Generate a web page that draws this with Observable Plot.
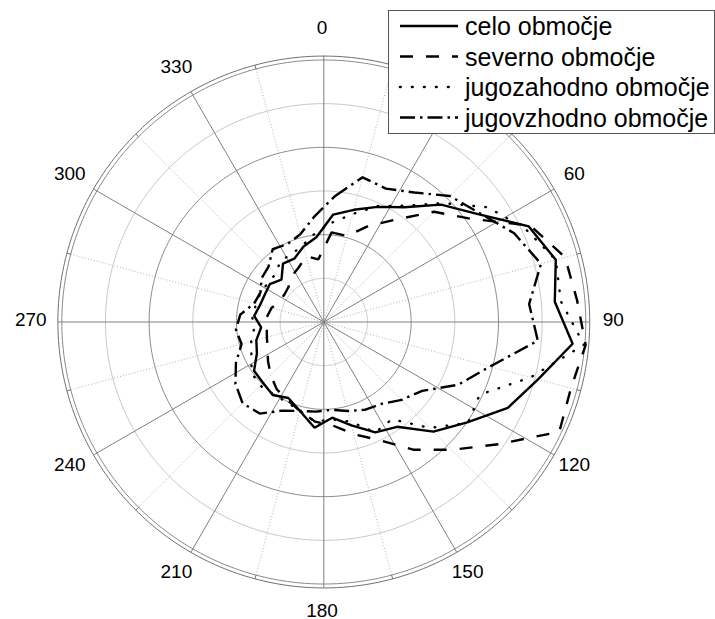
<!DOCTYPE html>
<html><head><meta charset="utf-8">
<script src="https://cdn.jsdelivr.net/npm/d3@7"></script>
<script src="https://cdn.jsdelivr.net/npm/@observablehq/plot@0.6"></script>
<style>
body{margin:0;background:#fff;}
#wrap{position:relative;width:715px;height:619px;font-family:"Liberation Sans",Arial,sans-serif;}
#legend{position:absolute;left:388px;top:10px;}
</style></head><body><div id="wrap"></div>
<script>
// angles (degrees, clockwise from north) of the data points
const angles = [5,15,25,35,45,55,65,75,85,95,105,115,125,135,145,155,165,175,185,195,205,215,225,235,245,255,265,275,285,295,305,315,325,335,345,355];
const celo = [24.7,26.6,29.1,32.1,38.0,43.1,51.8,55.0,53.1,57.2,50.8,46.5,40.1,35.5,29.3,27.9,24.5,22.0,24.3,21.1,19.2,20.4,19.7,19.5,16.9,16.0,14.4,16.0,15.1,14.9,15.1,13.7,16.3,16.0,17.9,19.5];
const severno = [20.6,20.4,24.3,28.6,35.7,41.2,52.2,57.2,58.2,60.2,58.6,59.5,48.8,41.4,35.7,29.8,26.6,23.8,22.9,21.1,19.7,18.8,17.2,15.6,14.2,13.5,13.1,13.1,12.4,11.2,11.0,11.4,12.8,13.7,15.6,14.4];
const jugozahodno = [22.9,25.6,29.3,32.5,38.5,45.8,50.8,55.0,54.5,59.8,49.0,39.4,40.3,34.3,27.2,27.9,23.6,22.4,22.9,21.1,20.2,20.2,20.6,20.2,18.3,17.2,16.0,16.5,16.0,16.0,15.6,15.6,17.2,17.2,18.3,20.6];
const jugovzhodno = [28.9,34.3,33.7,36.2,40.8,43.5,48.1,51.5,47.2,49.2,39.4,34.0,27.5,25.2,22.9,22.2,21.1,20.2,20.6,21.1,22.4,25.6,26.3,24.7,22.2,19.5,20.2,19.2,16.5,16.0,17.4,17.9,20.4,19.7,20.8,24.3];
const seriesNames = ["celo območje","severno območje","jugozahodno območje","jugovzhodno območje"];
const seriesValues = [celo, severno, jugozahodno, jugovzhodno];
const seriesDash = [null, "13,13", "0.6,11.4", "15,5,2.5,5"];
const seriesCap = ["butt", "butt", "round", "butt"];
// grid
const angleTicks = [0,30,60,90,120,150,180,210,240,270,300,330];
const minorAngles = [15,45,75,105,135,165,195,225,255,285,315,345];
const ringsLight = [10,30,50];
const ringsDark = [20,40,60];
const rMax = 60, rOuter = 60.9, rLabel = 66.7;

const rad = a => a * Math.PI / 180;
const X = (a, r) => r * Math.sin(rad(a));
const Y = (a, r) => r * Math.cos(rad(a));
const circlePts = rs => rs.flatMap(r => d3.range(0, 361, 1).map(a => ({r, a})));

const cx = 323.3, cy = 321.5, k = 262 / 60;
const marks = [
  Plot.line(circlePts(ringsLight), {x: d => X(d.a, d.r), y: d => Y(d.a, d.r), z: "r", stroke: "#c8c8c8", strokeWidth: 1}),
  Plot.link(minorAngles, {x1: () => 0, y1: () => 0, x2: a => X(a, rMax), y2: a => Y(a, rMax), stroke: "#b4b4b4", strokeWidth: 1, strokeDasharray: "1,2"}),
  Plot.line(circlePts(ringsDark), {x: d => X(d.a, d.r), y: d => Y(d.a, d.r), z: "r", stroke: "#8a8a8a", strokeWidth: 1}),
  Plot.line(circlePts([rOuter]), {x: d => X(d.a, d.r), y: d => Y(d.a, d.r), z: "r", stroke: "#707070", strokeWidth: 1}),
  Plot.link(minorAngles, {x1: a => X(a, rMax), y1: a => Y(a, rMax), x2: a => X(a, rOuter), y2: a => Y(a, rOuter), stroke: "#707070", strokeWidth: 1}),
  Plot.link(angleTicks, {x1: () => 0, y1: () => 0, x2: a => X(a, rOuter), y2: a => Y(a, rOuter), stroke: "#808080", strokeWidth: 1}),
  Plot.text(angleTicks, {x: a => X(a, rLabel), y: a => Y(a, rLabel), text: a => String(a), fontSize: 19, fill: "#000", dx: -1.8, dy: -2.5})
];
seriesValues.forEach((vals, i) => {
  const rows = angles.map((a, j) => ({a, r: vals[j]}));
  marks.push(Plot.line(rows, {
    x: d => X(d.a, d.r), y: d => Y(d.a, d.r),
    curve: "linear-closed", stroke: "#000", strokeWidth: 2.4,
    strokeDasharray: seriesDash[i] || undefined,
    strokeLinecap: seriesCap[i], strokeLinejoin: "miter"
  }));
});

const chart = Plot.plot({
  width: 715, height: 619,
  marginTop: 0, marginRight: 0, marginBottom: 0, marginLeft: 0,
  x: {domain: [-60, 60], range: [cx - 60 * k, cx + 60 * k], axis: null},
  y: {domain: [-60, 60], range: [cy + 60 * k, cy - 60 * k], axis: null},
  style: {fontFamily: "'Liberation Sans', Arial, sans-serif", background: "white"},
  marks
});
const wrap = document.getElementById("wrap");
wrap.appendChild(chart);

// legend overlay
const ns = "http://www.w3.org/2000/svg";
const lg = document.createElementNS(ns, "svg");
lg.setAttribute("id", "legend");
lg.setAttribute("width", 327); lg.setAttribute("height", 124);
const rect = document.createElementNS(ns, "rect");
rect.setAttribute("x", 0.5); rect.setAttribute("y", 0.5);
rect.setAttribute("width", 326); rect.setAttribute("height", 123);
rect.setAttribute("fill", "white"); rect.setAttribute("stroke", "#555");
lg.appendChild(rect);
seriesNames.forEach((name, i) => {
  const yb = 25 + i * 30.5;
  const ln = document.createElementNS(ns, "line");
  ln.setAttribute("x1", 12); ln.setAttribute("x2", 70);
  ln.setAttribute("y1", yb - 9); ln.setAttribute("y2", yb - 9);
  ln.setAttribute("stroke", "#000"); ln.setAttribute("stroke-width", 2.6);
  ln.setAttribute("stroke-linecap", seriesCap[i]);
  if (seriesDash[i]) ln.setAttribute("stroke-dasharray", seriesDash[i]);
  lg.appendChild(ln);
  const t = document.createElementNS(ns, "text");
  t.setAttribute("x", 77); t.setAttribute("y", yb);
  t.setAttribute("font-size", 25);
  t.setAttribute("font-family", "'Liberation Sans', Arial, sans-serif");
  t.textContent = name;
  lg.appendChild(t);
});
wrap.appendChild(lg);
</script></body></html>
